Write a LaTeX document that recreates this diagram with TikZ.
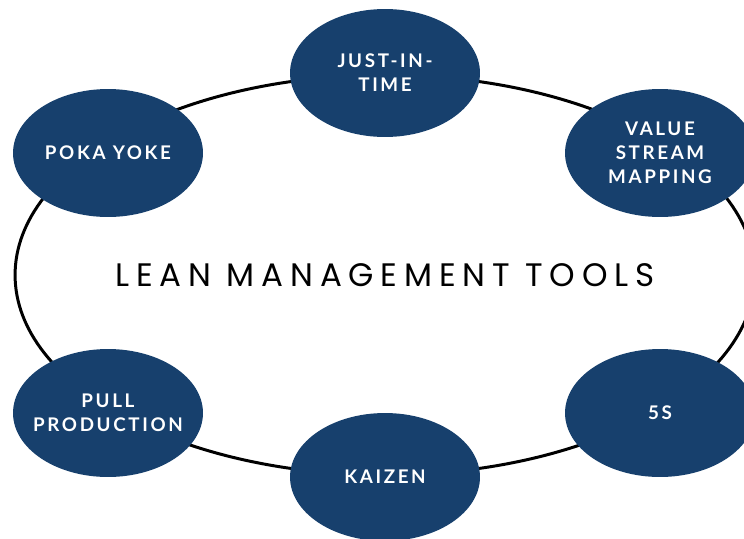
\documentclass[tikz,border=0pt]{standalone}
\usepackage{fontspec}
\usetikzlibrary{shapes.geometric}
\newfontfamily\titlefont[LetterSpace=21]{Poppins}
\newfontfamily\toolfont[LetterSpace=14]{Lato}
\definecolor{leanblue}{HTML}{17406D}
\tikzset{
  tool/.style={ellipse, fill=leanblue, minimum width=3.8cm, minimum height=2.56cm,
    inner sep=-2cm, align=center, text=white, font=\toolfont\bfseries\fontsize{10.7}{13.7}\selectfont},
  ring/.style={ellipse, draw=black, line width=1.7pt, minimum width=14.8cm, minimum height=8cm, inner sep=-2cm}
}

\begin{document}
\begin{tikzpicture}[x=0.02cm, y=-0.02cm]
	\clip (0,0) rectangle (744,538);
	\node[ring, font=\titlefont\fontsize{18.5}{20}\selectfont] (lean) at (385,275) {LEAN MANAGEMENT TOOLS};
	\node[tool] (jit) at (385,73) {JUST-IN-\\TIME};
	\node[tool] (poka) at (108,153) {POKA YOKE};
	\node[tool] (vsm) at (660,153) {VALUE\\STREAM\\MAPPING};
	\node[tool] (pull) at (108,413) {PULL\\PRODUCTION};
	\node[tool] (fives) at (660,413) {5S};
	\node[tool] (kaizen) at (385,477) {KAIZEN};
\end{tikzpicture}
\end{document}
